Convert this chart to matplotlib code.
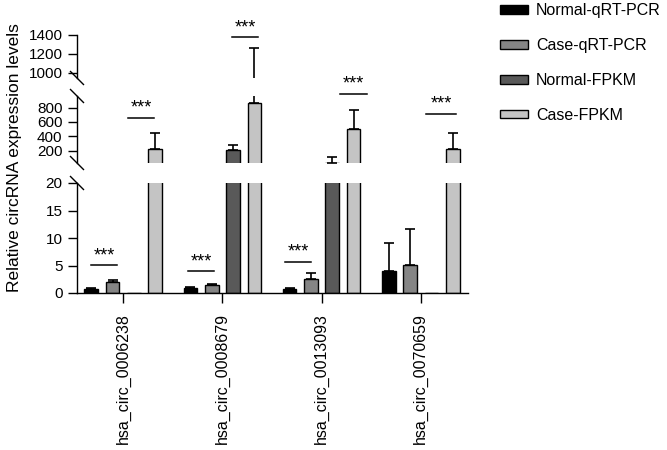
import numpy as np
import matplotlib
matplotlib.use("Agg")
import matplotlib.pyplot as plt
from matplotlib.lines import Line2D

plt.rcParams['font.family'] = ['Liberation Sans', 'DejaVu Sans']

genes = ["hsa_circ_0006238", "hsa_circ_0008679", "hsa_circ_0013093", "hsa_circ_0070659"]
series = ["Normal-qRT-PCR", "Case-qRT-PCR", "Normal-FPKM", "Case-FPKM"]
colors = ["#000000", "#858585", "#595959", "#c4c4c4"]

normal_qrt = [0.8, 1.0, 0.7, 4.0]
normal_qrt_sd = [0.15, 0.1, 0.3, 5.1]
case_qrt = [2.0, 1.45, 2.5, 5.1]
case_qrt_sd = [0.4, 0.25, 1.1, 6.5]
normal_fpkm = [0, 209, 32, 0]
normal_fpkm_sd = [0, 66, 80, 0]
case_fpkm = [225, 866, 499, 223]
case_fpkm_sd = [218, 394, 269, 228]

values = [normal_qrt, case_qrt, normal_fpkm, case_fpkm]
sds = [normal_qrt_sd, case_qrt_sd, normal_fpkm_sd, case_fpkm_sd]

# significance bars: gene index, x start / end relative to the gene, height
sig_lines = [(0, -0.325, -0.063, 5.1), (0, 0.048, 0.31, 660),
             (1, -0.348, -0.08, 4.0), (1, 0.096, 0.36, 1376),
             (2, -0.367, -0.105, 5.7), (2, 0.19, 0.457, 993),
             (3, 0.053, 0.359, 716)]

W, H = 667, 450
fig = plt.figure(figsize=(W/100, H/100), dpi=100)
L, R = 77, 468

def box(top_px, bot_px):
    return [L/W, 1 - bot_px/H, (R - L)/W, (bot_px - top_px)/H]

ax_bot = fig.add_axes(box(183, 293))
ax_mid = fig.add_axes(box(96, 163))
ax_top = fig.add_axes(box(34.7, 78))
segs = [(ax_bot, (0, 20), [0, 5, 10, 15, 20]),
        (ax_mid, (28, 962), [200, 400, 600, 800]),
        (ax_top, (944, 1400), [1000, 1200, 1400])]

x = np.arange(len(genes))
step, width = 0.215, 0.138
offs = [-1.5, -0.5, 0.5, 1.5]
handles = []
for ax, lim, ticks in segs:
    # qRT-PCR values only reach the lowest segment
    shown = range(4) if ax is ax_bot else range(2, 4)
    for i in shown:
        v = np.array(values[i], dtype=float)
        sd = np.array(sds[i], dtype=float)
        b = ax.bar(x + offs[i]*step, v, width, color=colors[i],
                   edgecolor='black', linewidth=1.0)
        has = sd > 0
        ax.errorbar((x + offs[i]*step)[has], v[has],
                    yerr=[np.zeros(has.sum()), sd[has]], fmt='none',
                    capsize=3.5, elinewidth=1.2, capthick=1.2, ecolor='black')
        if ax is ax_bot:
            handles.append(b)
    ax.set_ylim(*lim)
    ax.set_yticks(ticks)
    ax.set_xlim(-0.466, 3.476)
    for s in ['top', 'right']:
        ax.spines[s].set_visible(False)
    ax.spines['left'].set_linewidth(1.0)
    ax.spines['bottom'].set_linewidth(1.0)
    ax.tick_params(axis='y', length=6.5, width=1.0, pad=4, labelsize=11)
    ax.set_facecolor('none')
    if ax is not ax_bot:
        ax.spines['bottom'].set_visible(False)
        ax.set_xticks([])

ax_bot.set_xticks(x, genes, rotation=90)
ax_bot.tick_params(axis='x', length=7.5, width=1.0, pad=7, labelsize=11.5)

for g, x0, x1, y in sig_lines:
    ax = ax_bot if y <= 20 else (ax_mid if y < 1100 else ax_top)
    ax.plot([g + x0, g + x1], [y, y], color='black', lw=1.1, clip_on=False)
    ax.annotate('***', (g + (x0 + x1)/2, y), xytext=(0, 3.5),
                textcoords='offset points', ha='center', va='baseline',
                fontsize=13, annotation_clip=False)

# axis break marks
for py in [78, 96, 163, 183]:
    fig.add_artist(Line2D([(L - 6.5)/W, (L + 6.5)/W],
                          [1 - (py - 6.5)/H, 1 - (py + 6.5)/H],
                          color='black', lw=1.0))

fig.text(15/W, 1 - 157.5/H, 'Relative circRNA expression levels',
         rotation=90, ha='center', va='center', fontsize=12.5)

fig.legend(handles, series, loc='upper left', bbox_to_anchor=(500/W, 1 - 3/H),
           frameon=False, fontsize=11.5, handlelength=1.75, handleheight=0.45,
           handletextpad=0.5, labelspacing=1.25, borderpad=0, borderaxespad=0)

fig.savefig('out.png', dpi=100)
